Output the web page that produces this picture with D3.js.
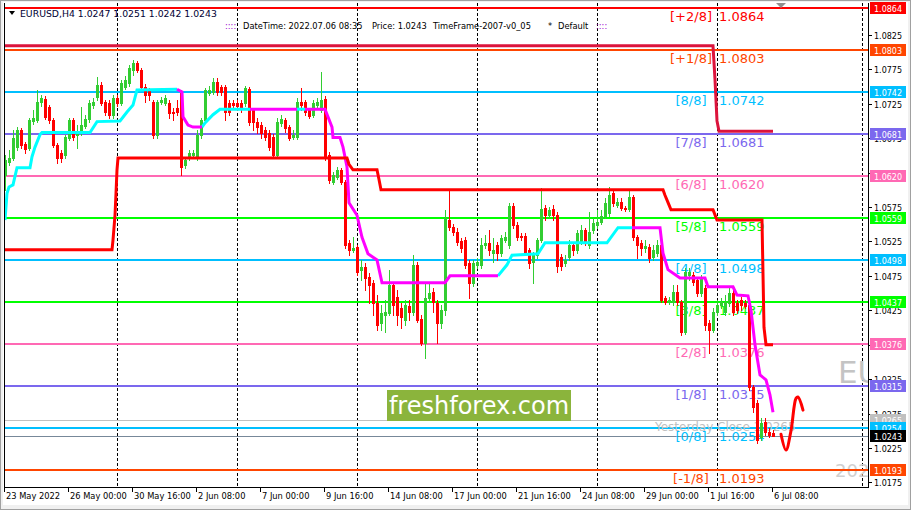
<!DOCTYPE html>
<html>
<head>
<meta charset="utf-8">
<script src="https://cdn.jsdelivr.net/npm/d3@7/dist/d3.min.js"></script>
<style>
  body { margin: 0; background: #f0f0f0; }
  svg text { font-family: "DejaVu Sans", sans-serif; }
</style>
</head>
<body>
<div id="chart"></div>
<script>
// EURUSD H4 bars, 23 May 2022 08:00 .. 6 Jul 2022 08:00
var opens = [1.0622,1.0640,1.0646,1.0662,1.0687,1.0667,1.0661,1.0700,1.0701,1.0728,1.0732,1.0720,1.0701,1.0665,1.0653,1.0651,1.0675,1.0701,1.0680,1.0683,
  1.0693,1.0703,1.0723,1.0735,1.0752,1.0728,1.0726,1.0709,1.0733,1.0726,1.0749,1.0755,1.0774,1.0784,1.0774,1.0749,1.0745,1.0728,1.0680,1.0728,
  1.0726,1.0726,1.0713,1.0719,1.0741,1.0636,1.0646,1.0651,1.0648,1.0680,1.0701,1.0741,1.0742,1.0757,1.0749,1.0749,1.0726,1.0726,1.0726,1.0726,
  1.0726,1.0746,1.0716,1.0699,1.0694,1.0687,1.0683,1.0677,1.0651,1.0697,1.0701,1.0691,1.0677,1.0677,1.0728,1.0728,1.0716,1.0709,1.0723,1.0716,
  1.0732,1.0651,1.0611,1.0619,1.0629,1.0611,1.0523,1.0513,1.0517,1.0484,1.0488,1.0473,1.0465,1.0436,1.0407,1.0418,1.0421,1.0462,1.0444,1.0428,
  1.0411,1.0431,1.0423,1.0491,1.0412,1.0378,1.0443,1.0452,1.0436,1.0407,1.0425,1.0556,1.0546,1.0539,1.0526,1.0527,1.0494,1.0465,1.0491,1.0491,
  1.0520,1.0523,1.0508,1.0520,1.0508,1.0527,1.0520,1.0577,1.0549,1.0533,1.0533,1.0513,1.0495,1.0505,1.0527,1.0574,1.0563,1.0572,1.0563,1.0502,
  1.0494,1.0502,1.0520,1.0513,1.0524,1.0542,1.0520,1.0542,1.0549,1.0553,1.0562,1.0566,1.0595,1.0578,1.0582,1.0574,1.0572,1.0590,1.0532,1.0523,
  1.0516,1.0517,1.0502,1.0508,1.0520,1.0443,1.0437,1.0437,1.0452,1.0437,1.0394,1.0476,1.0476,1.0469,1.0450,1.0457,1.0407,1.0396,1.0423,1.0433,
  1.0423,1.0436,1.0450,1.0436,1.0440,1.0436,1.0433,1.0314,1.0290,1.0241,1.0263,1.0248,1.0247];
var highs = [1.0650,1.0658,1.0687,1.0691,1.0690,1.0669,1.0704,1.0716,1.0745,1.0738,1.0736,1.0723,1.0704,1.0668,1.0658,1.0680,1.0704,1.0704,1.0694,1.0720,
  1.0709,1.0730,1.0733,1.0764,1.0757,1.0730,1.0730,1.0738,1.0738,1.0759,1.0765,1.0781,1.0789,1.0787,1.0777,1.0754,1.0748,1.0730,1.0730,1.0735,
  1.0738,1.0730,1.0719,1.0730,1.0745,1.0646,1.0658,1.0658,1.0687,1.0704,1.0748,1.0751,1.0762,1.0762,1.0752,1.0752,1.0730,1.0730,1.0730,1.0730,
  1.0751,1.0749,1.0719,1.0704,1.0699,1.0691,1.0687,1.0681,1.0704,1.0709,1.0704,1.0694,1.0687,1.0733,1.0748,1.0730,1.0719,1.0730,1.0733,1.0771,
  1.0736,1.0655,1.0626,1.0633,1.0632,1.0614,1.0527,1.0532,1.0520,1.0498,1.0494,1.0479,1.0469,1.0447,1.0433,1.0440,1.0484,1.0466,1.0455,1.0436,
  1.0440,1.0440,1.0505,1.0495,1.0418,1.0465,1.0466,1.0457,1.0440,1.0433,1.0571,1.0598,1.0550,1.0545,1.0530,1.0532,1.0498,1.0498,1.0501,1.0530,
  1.0534,1.0542,1.0530,1.0524,1.0534,1.0539,1.0581,1.0581,1.0553,1.0537,1.0537,1.0516,1.0510,1.0530,1.0603,1.0578,1.0575,1.0578,1.0568,1.0507,
  1.0505,1.0527,1.0524,1.0542,1.0549,1.0545,1.0568,1.0559,1.0571,1.0571,1.0588,1.0604,1.0600,1.0588,1.0588,1.0577,1.0600,1.0593,1.0534,1.0527,
  1.0527,1.0521,1.0520,1.0527,1.0527,1.0446,1.0444,1.0462,1.0462,1.0440,1.0487,1.0487,1.0481,1.0472,1.0476,1.0462,1.0411,1.0428,1.0440,1.0443,
  1.0447,1.0457,1.0455,1.0440,1.0444,1.0440,1.0440,1.0317,1.0295,1.0269,1.0269,1.0254,1.0251];
var lows = [1.0600,1.0636,1.0643,1.0658,1.0661,1.0653,1.0658,1.0696,1.0699,1.0722,1.0703,1.0697,1.0662,1.0639,1.0640,1.0646,1.0672,1.0672,1.0661,1.0680,
  1.0690,1.0699,1.0719,1.0730,1.0723,1.0709,1.0704,1.0704,1.0722,1.0723,1.0746,1.0751,1.0767,1.0771,1.0745,1.0728,1.0730,1.0675,1.0675,1.0725,
  1.0723,1.0704,1.0701,1.0709,1.0622,1.0632,1.0643,1.0646,1.0643,1.0675,1.0699,1.0738,1.0739,1.0738,1.0738,1.0701,1.0709,1.0719,1.0716,1.0713,
  1.0722,1.0694,1.0687,1.0683,1.0675,1.0672,1.0658,1.0648,1.0648,1.0693,1.0684,1.0672,1.0674,1.0674,1.0716,1.0709,1.0704,1.0706,1.0719,1.0713,
  1.0643,1.0610,1.0608,1.0616,1.0608,1.0516,1.0505,1.0510,1.0476,1.0469,1.0455,1.0436,1.0418,1.0396,1.0396,1.0394,1.0418,1.0418,1.0404,1.0399,
  1.0404,1.0411,1.0418,1.0408,1.0375,1.0356,1.0440,1.0423,1.0378,1.0399,1.0418,1.0542,1.0534,1.0520,1.0510,1.0487,1.0443,1.0460,1.0487,1.0487,
  1.0516,1.0505,1.0495,1.0498,1.0504,1.0524,1.0516,1.0545,1.0527,1.0527,1.0505,1.0487,1.0465,1.0501,1.0524,1.0556,1.0559,1.0556,1.0481,1.0484,
  1.0489,1.0498,1.0505,1.0508,1.0521,1.0520,1.0516,1.0537,1.0545,1.0550,1.0559,1.0562,1.0577,1.0575,1.0571,1.0569,1.0569,1.0527,1.0501,1.0505,
  1.0510,1.0495,1.0498,1.0504,1.0437,1.0434,1.0434,1.0433,1.0433,1.0389,1.0391,1.0469,1.0462,1.0446,1.0446,1.0396,1.0363,1.0394,1.0418,1.0428,
  1.0418,1.0431,1.0418,1.0421,1.0425,1.0428,1.0309,1.0277,1.0232,1.0237,1.0244,1.0241,1.0242];
var closes = [1.0643,1.0646,1.0675,1.0687,1.0665,1.0659,1.0701,1.0704,1.0728,1.0733,1.0706,1.0701,1.0665,1.0646,1.0646,1.0677,1.0701,1.0677,1.0683,1.0694,
  1.0703,1.0726,1.0728,1.0752,1.0726,1.0713,1.0709,1.0733,1.0726,1.0755,1.0759,1.0777,1.0784,1.0774,1.0749,1.0738,1.0738,1.0680,1.0728,1.0730,
  1.0733,1.0712,1.0712,1.0713,1.0633,1.0643,1.0653,1.0653,1.0680,1.0701,1.0745,1.0745,1.0757,1.0742,1.0742,1.0713,1.0713,1.0723,1.0722,1.0719,
  1.0748,1.0699,1.0699,1.0691,1.0683,1.0677,1.0662,1.0651,1.0699,1.0703,1.0690,1.0675,1.0680,1.0728,1.0723,1.0713,1.0707,1.0726,1.0728,1.0730,
  1.0648,1.0614,1.0622,1.0629,1.0611,1.0520,1.0513,1.0516,1.0481,1.0488,1.0472,1.0462,1.0436,1.0404,1.0421,1.0423,1.0462,1.0433,1.0418,1.0415,
  1.0433,1.0423,1.0491,1.0411,1.0378,1.0443,1.0450,1.0437,1.0407,1.0425,1.0559,1.0546,1.0539,1.0524,1.0516,1.0491,1.0465,1.0494,1.0495,1.0520,
  1.0523,1.0513,1.0513,1.0508,1.0530,1.0532,1.0577,1.0549,1.0532,1.0532,1.0510,1.0494,1.0505,1.0527,1.0572,1.0563,1.0571,1.0563,1.0489,1.0489,
  1.0498,1.0520,1.0513,1.0537,1.0542,1.0524,1.0539,1.0552,1.0553,1.0562,1.0581,1.0593,1.0581,1.0582,1.0574,1.0572,1.0590,1.0532,1.0520,1.0516,
  1.0518,1.0501,1.0513,1.0520,1.0440,1.0437,1.0440,1.0452,1.0437,1.0394,1.0481,1.0481,1.0466,1.0450,1.0473,1.0404,1.0396,1.0423,1.0433,1.0437,
  1.0437,1.0450,1.0423,1.0425,1.0433,1.0431,1.0314,1.0285,1.0237,1.0261,1.0248,1.0244,1.0243];

var timeLabels = ["23 May 2022","26 May 00:00","30 May 16:00","2 Jun 08:00","7 Jun 00:00","9 Jun 16:00","14 Jun 08:00",
  "17 Jun 00:00","21 Jun 16:00","24 Jun 08:00","29 Jun 00:00","1 Jul 16:00","6 Jul 08:00"];
var timeLabelBars = [0,16,32,48,64,80,96,112,128,144,160,176,192];
var separatorBars = [28,58,88,118,148,178,214.25];

var priceTicks = [1.0825,1.0775,1.0725,1.0675,1.0625,1.0575,1.0525,1.0475,1.0425,1.0375,1.0325,1.0275,1.0225,1.0175];

// Murrey math levels
var levelNames = ["[+2/8]","[+1/8]","[8/8]","[7/8]","[6/8]","[5/8]","[4/8]","[3/8]","[2/8]","[1/8]","[0/8]","[-1/8]"];
var levelValues = [1.0864,1.0803,1.0742,1.0681,1.0620,1.0559,1.0498,1.0437,1.0376,1.0315,1.0254,1.0193];
var yesterdayClose = 1.0265;
var lastPrice = 1.0243;
var header = {symbol: "EURUSD,H4", ohlc: [1.0247, 1.0251, 1.0242, 1.0243], time: "2022.07.06 08:35", frame: "TimeFrame-2007-v0_05", set: "Default"};

// channel step lines [bar, price]
var upperBand = [[0,1.0809],[177,1.0809],[177.5,1.0760],[178,1.0700],[178.5,1.0685],[192,1.0685]];
var lowerBand = [[0,1.0513],[26.75,1.0513],[27,1.0527],[27.5,1.0563],[27.75,1.0595],[28,1.0629],[28.25,1.0646],[85.5,1.0646],
  [86,1.0637],[87,1.0629],[93,1.0629],[93.5,1.0615],[94,1.0600],[164.5,1.0600],[165,1.0592],[166,1.0578],[166.5,1.0571],
  [177,1.0571],[178,1.0556],[189.25,1.0556],[189.75,1.0400],[190.25,1.0375],[192,1.0375]];

// trend line, rising parts and falling parts
var trendUp = [
  [[0,1.0556],[0.5,1.0595],[1,1.0604],[2,1.0607],[3,1.0632],[6.25,1.0632],[6.75,1.0648],[7.5,1.0662],[8.75,1.0680],[9.25,1.0683],
   [21.25,1.0683],[23,1.0699],[28.75,1.0700],[30.5,1.0713],[32,1.0723],[33,1.0745],[43,1.0746]],
  [[49.25,1.0691],[50,1.0697],[52,1.0709],[53.75,1.0717],[61.25,1.0717]],
  [[73,1.0717],[75,1.0717]],
  [[123.25,1.0475],[125.5,1.0491],[126.75,1.0505],[133.25,1.0507],[135,1.0523],[150.5,1.0523],[153.25,1.0545],[156.75,1.0545]]
];
var trendDown = [
  [[43,1.0746],[44.25,1.0742],[44.5,1.0706],[45.75,1.0694],[47,1.0691],[49.25,1.0691]],
  [[61.25,1.0717],[73,1.0717]],
  [[75,1.0717],[80,1.0717],[81.75,1.0691],[82,1.0676],[83.75,1.0676],[84.5,1.0662],[85.5,1.0633],[86,1.0581],[88,1.0563],
   [89.25,1.0531],[90.75,1.0507],[93,1.0498],[94.25,1.0465],[110,1.0465],[111.25,1.0475],[123.25,1.0475]],
  [[156.75,1.0545],[163.75,1.0545],[164.5,1.0508],[165.75,1.0484],[168.75,1.0472],[175,1.0472],[175.75,1.0459],[182,1.0459],
   [183,1.0447],[185.75,1.0446],[186.5,1.0425],[187.5,1.0375],[188.75,1.0331],[190.25,1.0324],[191.25,1.0302],[192,1.0277]]
];
var projection = [[194,1.0245],[195.25,1.0222],[196.5,1.0250],[197.75,1.0297],[198.25,1.0299],[199.5,1.0280]];

// styles
var levelColors = ["#ff0000","#ff4500","#00bfff","#7b68ee","#ff69b4","#00ff00","#00bfff","#00ff00","#ff69b4","#7b68ee","#00bfff","#ff4500"];
var bullColor = "#32cd32", bearColor = "#ff0000";

var plot = {left: 4, right: 868, top: 3, bottom: 487};

var xs = d3.scaleLinear().domain([0, 192]).range([5, 773]);
var ys = d3.scaleLinear().domain([1.0193, 1.0864]).range([470, 8]);
var py = v => Math.round(ys(v));
var px = v => Math.round(xs(v));

var svg = d3.select("#chart").append("svg")
    .attr("width", 911)
    .attr("height", 510)
    .style("display", "block");

svg.append("rect").attr("width", 911).attr("height", 510).attr("fill", "#f0f0f0");
svg.append("rect").attr("x", 0.5).attr("y", 0.5).attr("width", 910).attr("height", 509)
    .attr("fill", "none").attr("stroke", "#a0a0a0");
svg.append("rect").attr("x", 3).attr("y", 2).attr("width", 905).attr("height", 503).attr("fill", "#fff");

svg.append("clipPath").attr("id", "plotclip")
  .append("rect").attr("x", plot.left + 1).attr("y", plot.top).attr("width", plot.right - plot.left - 1).attr("height", plot.bottom - plot.top);

var g = svg.append("g").attr("clip-path", "url(#plotclip)");

// week separators
g.selectAll(".sep").data(separatorBars).enter().append("line")
    .attr("x1", d => px(d) + 0.5).attr("x2", d => px(d) + 0.5)
    .attr("y1", plot.top).attr("y2", plot.bottom)
    .attr("stroke", "#000").attr("stroke-dasharray", "3,2");

// watermark pieces cut by the price scale
g.append("text").attr("x", 838).attr("y", 383).attr("font-size", 31)
    .attr("font-family", "Liberation Sans, sans-serif").attr("fill", "#c4c4c4").text("EURUSD,H4");
g.append("text").attr("x", 835).attr("y", 477).attr("font-size", 18)
    .attr("font-family", "Liberation Sans, sans-serif").attr("fill", "#d0d0d0").text("2022.07.06");

// levels
var levels = levelNames.map((n, i) => ({name: n, value: levelValues[i], color: levelColors[i]}));

g.selectAll(".lvl").data(levels).enter().append("line")
    .attr("x1", plot.left).attr("x2", plot.right)
    .attr("y1", d => py(d.value)).attr("y2", d => py(d.value))
    .attr("stroke", d => d.color).attr("stroke-width", 2);

g.append("line").attr("x1", plot.left).attr("x2", plot.right)
    .attr("y1", py(yesterdayClose) + 0.5).attr("y2", py(yesterdayClose) + 0.5)
    .attr("stroke", "#c0c0c0");
g.append("line").attr("x1", plot.left).attr("x2", plot.right)
    .attr("y1", py(lastPrice) + 0.5).attr("y2", py(lastPrice) + 0.5)
    .attr("stroke", "#778899");

var lbl = g.append("g").attr("font-family", "Liberation Sans, Arial, sans-serif").attr("font-size", 13);
lbl.selectAll(".ln").data(levels).enter().append("text")
    .attr("x", 691).attr("y", d => py(d.value) + 13)
    .attr("text-anchor", "middle").attr("fill", d => d.color).text(d => d.name);
lbl.selectAll(".lv").data(levels).enter().append("text")
    .attr("x", 719).attr("y", d => py(d.value) + 13)
    .attr("fill", d => d.color).text(d => d.value.toFixed(4));
lbl.append("text").attr("x", 655).attr("y", py(yesterdayClose) + 11).attr("font-size", 12)
    .attr("fill", "#c0c0c0").text("Yesterday Close " + yesterdayClose.toFixed(4));

// candles
var bars = opens.map((o, i) => ({i: i, o: o, h: highs[i], l: lows[i], c: closes[i]}));
var candle = g.append("g").selectAll("g").data(bars).enter().append("g")
    .attr("fill", d => d.c >= d.o ? bullColor : bearColor)
    .attr("stroke", d => d.c >= d.o ? bullColor : bearColor);
candle.append("line")
    .attr("x1", d => px(d.i) + 0.5).attr("x2", d => px(d.i) + 0.5)
    .attr("y1", d => py(d.h)).attr("y2", d => py(d.l) + 1);
candle.append("rect")
    .attr("stroke", "none")
    .attr("x", d => px(d.i) - 1).attr("width", 3)
    .attr("y", d => py(Math.max(d.o, d.c)))
    .attr("height", d => Math.max(1, py(Math.min(d.o, d.c)) - py(Math.max(d.o, d.c)) + 1));

// indicator lines
var line = d3.line().x(d => xs(d[0])).y(d => ys(d[1]));
g.selectAll(".up").data(trendUp).enter().append("path")
    .attr("d", line).attr("fill", "none").attr("stroke", "#00ffff").attr("stroke-width", 3);
g.selectAll(".dn").data(trendDown).enter().append("path")
    .attr("d", line).attr("fill", "none").attr("stroke", "#ff00ff").attr("stroke-width", 3);
g.append("path").datum(upperBand).attr("d", line)
    .attr("fill", "none").attr("stroke", "#dc143c").attr("stroke-width", 3);
g.append("path").datum(lowerBand).attr("d", line)
    .attr("fill", "none").attr("stroke", "#ff0000").attr("stroke-width", 3);
g.append("path").datum(projection).attr("d", d3.line().curve(d3.curveCatmullRom).x(d => xs(d[0])).y(d => ys(d[1])))
    .attr("fill", "none").attr("stroke", "#ff0000").attr("stroke-width", 3).attr("stroke-linecap", "round");

// logo
svg.append("rect").attr("x", 387).attr("y", 390).attr("width", 184).attr("height", 31).attr("fill", "#8bb43c");
svg.append("text").attr("x", 479).attr("y", 414).attr("text-anchor", "middle")
    .attr("font-family", "Open Sans, sans-serif").attr("font-size", 24).attr("fill", "#fff").text("freshforex.com");

// frame and axes
svg.append("line").attr("x1", plot.left + 0.5).attr("x2", plot.left + 0.5).attr("y1", plot.top).attr("y2", plot.bottom + 1).attr("stroke", "#000");
svg.append("line").attr("x1", plot.right + 0.5).attr("x2", plot.right + 0.5).attr("y1", plot.top).attr("y2", plot.bottom + 1).attr("stroke", "#000");
svg.append("line").attr("x1", plot.left).attr("x2", plot.right + 1).attr("y1", plot.bottom + 0.5).attr("y2", plot.bottom + 0.5).attr("stroke", "#000");

var ax = svg.append("g").attr("font-size", 8).attr("fill", "#000");
ax.selectAll(".pt").data(priceTicks).enter().append("line")
    .attr("x1", plot.right).attr("x2", plot.right + 4)
    .attr("y1", d => py(d) + 0.5).attr("y2", d => py(d) + 0.5).attr("stroke", "#000");
ax.selectAll(".ptl").data(priceTicks).enter().append("text")
    .attr("x", 874).attr("y", d => py(d) + 4).text(d => d.toFixed(4));

ax.selectAll(".tt").data(timeLabelBars).enter().append("line")
    .attr("x1", d => px(d) - 0.5).attr("x2", d => px(d) - 0.5)
    .attr("y1", plot.bottom).attr("y2", plot.bottom + 5).attr("stroke", "#000");
ax.selectAll(".ttl").data(timeLabels).enter().append("text")
    .attr("x", (d, i) => px(timeLabelBars[i]) + 1).attr("y", 499).attr("font-size", 8.3).text(d => d);

// price boxes on the scale
var boxes = levels.map(d => ({value: d.value, color: d.color}));
boxes.push({value: yesterdayClose, color: "#c0c0c0"});
boxes.sort((a, b) => b.value - a.value);
boxes.push({value: 1.0254, color: "#00bfff"});
boxes.push({value: lastPrice, color: "#000"});
var box = svg.append("g").selectAll("g").data(boxes).enter().append("g");
box.append("rect").attr("x", 870).attr("width", 36)
    .attr("y", d => py(d.value) - 6).attr("height", 12).attr("fill", d => d.color);
box.append("text").attr("x", 888).attr("y", d => py(d.value) + 4)
    .attr("text-anchor", "middle").attr("font-size", 8).attr("fill", "#fff").text(d => d.value.toFixed(4));

// shift marker
svg.append("path").attr("d", "M776,3L786,3L781,8Z").attr("fill", "#909090");

// header
var hd = svg.append("g").attr("font-size", 8.3).attr("fill", "#000");
hd.append("path").attr("d", "M9,11L15,11L12,15Z").attr("fill", "#000");
hd.append("text").attr("x", 20).attr("y", 17).attr("font-size", 9.3).attr("fill", "#000033")
    .text(header.symbol + "  " + header.ohlc.map(v => v.toFixed(4)).join(" "));
hd.append("text").attr("x", 225).attr("y", 29).attr("fill", "#9900cc").text("::::");
hd.append("text").attr("x", 243).attr("y", 29).text("DateTime: " + header.time);
hd.append("text").attr("x", 372).attr("y", 29).text("Price: " + lastPrice.toFixed(4));
hd.append("text").attr("x", 433).attr("y", 29).text(header.frame);
hd.append("text").attr("x", 548).attr("y", 29).text("*");
hd.append("text").attr("x", 558).attr("y", 29).text(header.set);
hd.append("text").attr("x", 596).attr("y", 29).attr("fill", "#9900cc").text("::::");
</script>
</body>
</html>
